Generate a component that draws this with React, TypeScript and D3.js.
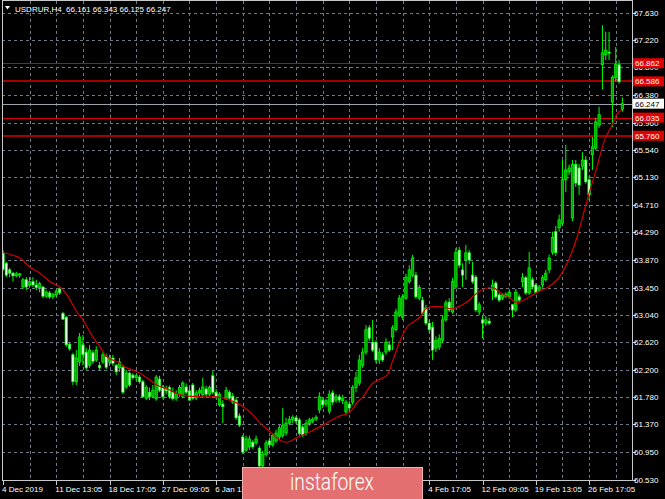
import * as d3 from "d3";

// chart header + axis text
const titleText = "USDRUR,H4  66.161 66.343 66.125 66.247";
const priceTicks = [
  67.63, 67.22, 66.8, 66.38, 65.96, 65.54, 65.13, 64.71, 64.29, 63.87, 63.45,
  63.04, 62.62, 62.2, 61.78, 61.37, 60.95, 60.53,
];
// labels that are not hidden under the watermark, with their bar index
const dateLabels = [
  "4 Dec 2019", "11 Dec 13:05", "18 Dec 17:05", "27 Dec 09:05", "6 Jan 13:05",
  "4 Feb 17:05", "12 Feb 09:05", "19 Feb 13:05", "26 Feb 17:05",
];
const dateLabelBars = [0, 16, 32, 48, 64, 128, 144, 160, 176];

// horizontal levels drawn on the chart
const levelPrices = [66.862, 66.586, 66.035, 65.76];
const levelHeavy = [false, true, false, true];
const lastPrice = 66.247;

// H4 candles: open, high, low, close
const ohlc: [number, number, number, number][] = [
  [63.98, 64.02, 63.70, 63.73], [63.82, 63.84, 63.61, 63.64], [63.72, 63.75, 63.61, 63.67], [63.67, 63.69, 63.54, 63.63],
  [63.63, 63.69, 63.61, 63.66], [63.64, 63.67, 63.60, 63.66], [63.46, 63.60, 63.43, 63.57], [63.57, 63.61, 63.41, 63.46],
  [63.49, 63.61, 63.45, 63.54], [63.54, 63.61, 63.46, 63.49], [63.49, 63.57, 63.41, 63.45], [63.45, 63.54, 63.38, 63.51],
  [63.46, 63.47, 63.29, 63.32], [63.32, 63.41, 63.29, 63.38], [63.37, 63.40, 63.28, 63.31], [63.31, 63.37, 63.28, 63.35],
  [63.34, 63.41, 63.31, 63.40], [63.43, 63.45, 63.34, 63.37], [63.06, 63.08, 62.96, 62.97], [63.00, 63.02, 62.55, 62.58],
  [62.59, 62.62, 62.49, 62.52], [62.43, 62.46, 61.97, 62.02], [62.02, 62.50, 61.97, 62.38], [62.32, 62.76, 62.26, 62.70],
  [62.58, 62.73, 62.27, 62.43], [62.47, 62.53, 62.20, 62.23], [62.27, 62.58, 62.23, 62.50], [62.46, 62.50, 62.29, 62.33],
  [62.35, 62.56, 62.32, 62.50], [62.27, 62.32, 62.20, 62.23], [62.32, 62.47, 62.29, 62.43], [62.40, 62.44, 62.21, 62.24],
  [62.32, 62.43, 62.26, 62.38], [62.38, 62.43, 62.26, 62.30], [62.27, 62.29, 62.12, 62.17], [62.23, 62.38, 62.17, 62.32],
  [62.24, 62.27, 61.83, 61.86], [61.94, 62.20, 61.91, 62.15], [62.15, 62.17, 61.94, 61.97], [62.12, 62.15, 62.05, 62.08],
  [62.08, 62.14, 62.03, 62.11], [62.09, 62.12, 61.99, 62.02], [62.02, 62.05, 61.77, 61.79], [61.77, 61.97, 61.74, 61.93],
  [61.86, 61.93, 61.74, 61.79], [61.80, 61.97, 61.77, 61.89], [61.76, 62.12, 61.73, 62.09], [62.06, 62.11, 61.86, 61.89],
  [61.94, 61.97, 61.76, 61.79], [61.91, 61.96, 61.83, 61.88], [61.93, 61.96, 61.76, 61.79], [61.86, 61.93, 61.73, 61.76],
  [61.77, 61.89, 61.73, 61.83], [61.83, 61.97, 61.79, 61.93], [61.80, 62.03, 61.77, 62.00], [61.94, 61.99, 61.83, 61.86],
  [61.88, 61.93, 61.73, 61.74], [61.97, 62.00, 61.74, 61.77], [61.77, 61.89, 61.74, 61.85], [61.85, 61.93, 61.80, 61.89],
  [61.82, 62.08, 61.77, 61.94], [61.91, 61.96, 61.79, 61.83], [61.83, 61.96, 61.80, 61.93], [62.11, 62.18, 61.83, 61.86],
  [61.86, 61.91, 61.76, 61.79], [61.67, 61.86, 61.64, 61.83], [61.68, 61.74, 61.39, 61.64], [61.77, 61.94, 61.74, 61.89],
  [61.86, 61.89, 61.74, 61.77], [61.80, 61.85, 61.68, 61.71], [61.74, 61.77, 61.44, 61.47], [61.50, 61.54, 61.33, 61.36],
  [61.18, 61.21, 60.92, 60.95], [60.98, 61.20, 60.95, 61.15], [61.03, 61.20, 60.98, 61.15], [61.10, 61.13, 61.00, 61.03],
  [61.09, 61.20, 61.06, 61.15], [61.01, 61.04, 60.68, 60.74], [60.74, 60.97, 60.69, 60.92], [60.91, 61.13, 60.88, 61.09],
  [61.12, 61.17, 61.03, 61.06], [61.06, 61.24, 61.03, 61.20], [61.12, 61.29, 61.09, 61.24], [61.18, 61.36, 61.13, 61.32],
  [61.20, 61.62, 61.17, 61.36], [61.24, 61.47, 61.20, 61.39], [61.39, 61.50, 61.36, 61.45], [61.44, 61.51, 61.39, 61.48],
  [61.47, 61.50, 61.38, 61.42], [61.44, 61.47, 61.20, 61.23], [61.33, 61.36, 61.18, 61.21], [61.24, 61.44, 61.20, 61.39],
  [61.38, 61.47, 61.35, 61.44], [61.42, 61.48, 61.39, 61.45], [61.45, 61.51, 61.42, 61.48], [61.59, 61.86, 61.54, 61.79],
  [61.74, 61.77, 61.62, 61.67], [61.68, 61.76, 61.64, 61.73], [61.57, 61.89, 61.53, 61.83], [61.85, 61.89, 61.67, 61.71],
  [61.74, 61.83, 61.70, 61.79], [61.79, 61.83, 61.70, 61.74], [61.73, 61.82, 61.68, 61.77], [61.56, 61.74, 61.53, 61.71],
  [61.68, 61.73, 61.57, 61.62], [61.71, 61.97, 61.67, 61.93], [61.93, 62.17, 61.86, 62.08], [62.00, 62.43, 61.96, 62.35],
  [62.27, 62.53, 62.23, 62.47], [62.47, 62.88, 62.43, 62.81], [62.84, 62.88, 62.64, 62.68], [62.62, 62.96, 62.47, 62.50],
  [62.62, 62.65, 62.30, 62.35], [62.35, 62.53, 62.29, 62.47], [62.43, 62.47, 62.32, 62.35], [62.47, 62.68, 62.43, 62.62],
  [62.58, 62.64, 62.47, 62.50], [62.70, 62.88, 62.50, 62.84], [62.81, 63.13, 62.78, 63.08], [63.03, 63.34, 63.00, 63.29],
  [63.00, 63.35, 62.96, 63.31], [63.29, 63.66, 63.26, 63.61], [63.54, 63.79, 63.51, 63.72], [63.64, 63.95, 63.61, 63.90],
  [63.64, 63.69, 63.28, 63.31], [63.29, 63.49, 63.26, 63.45], [63.26, 63.31, 63.03, 63.06], [63.14, 63.19, 62.88, 62.91],
  [62.91, 62.96, 62.76, 62.81], [62.85, 62.93, 62.35, 62.50], [62.53, 62.71, 62.47, 62.65], [62.55, 62.74, 62.50, 62.68],
  [62.65, 63.02, 62.61, 62.96], [62.96, 63.26, 62.93, 63.22], [63.23, 63.29, 63.08, 63.11], [63.08, 63.60, 63.05, 63.54],
  [63.46, 64.05, 63.43, 63.99], [64.02, 64.07, 63.75, 63.79], [63.72, 63.82, 63.46, 63.64], [63.87, 64.10, 63.57, 63.98],
  [63.98, 64.02, 63.81, 63.87], [63.64, 63.84, 63.51, 63.54], [63.61, 63.64, 63.08, 63.11], [63.08, 63.23, 63.03, 63.19],
  [62.96, 63.03, 62.68, 62.91], [62.91, 63.02, 62.87, 62.96], [62.94, 62.99, 62.88, 62.91], [63.41, 63.57, 63.26, 63.49],
  [63.52, 63.55, 63.28, 63.31], [63.34, 63.37, 63.23, 63.26], [63.29, 63.37, 63.26, 63.34], [63.32, 63.38, 63.29, 63.35],
  [63.31, 63.41, 63.28, 63.38], [63.19, 63.20, 63.00, 63.11], [63.11, 63.43, 63.08, 63.38], [63.31, 63.35, 63.23, 63.26],
  [63.54, 63.67, 63.46, 63.60], [63.60, 63.63, 63.34, 63.37], [63.37, 63.99, 63.34, 63.75], [63.57, 63.61, 63.43, 63.46],
  [63.49, 63.52, 63.35, 63.38], [63.41, 63.49, 63.38, 63.46], [63.49, 63.64, 63.45, 63.60], [63.57, 63.72, 63.54, 63.67],
  [63.72, 63.95, 63.67, 63.90], [63.99, 64.30, 63.95, 64.21], [64.30, 64.39, 63.93, 63.98], [64.36, 64.56, 64.30, 64.48],
  [64.43, 65.39, 64.39, 65.09], [65.09, 65.62, 64.90, 65.24], [65.21, 65.32, 65.16, 65.27], [64.51, 65.39, 64.46, 65.32],
  [65.32, 65.39, 64.98, 65.04], [65.27, 65.33, 64.86, 65.01], [65.29, 65.51, 65.24, 65.39], [65.39, 65.45, 65.03, 65.06],
  [65.09, 65.15, 64.78, 64.86], [65.47, 65.74, 65.24, 65.59], [65.57, 66.03, 65.54, 65.97], [65.92, 66.20, 65.88, 66.08],
  [66.84, 67.44, 66.46, 67.02], [66.99, 67.34, 66.91, 67.06], [67.03, 67.34, 66.91, 67.02], [66.27, 66.68, 65.89, 66.65],
  [66.64, 67.11, 66.58, 66.84], [66.84, 66.91, 66.55, 66.58], [66.161, 66.343, 66.125, 66.247],
];

// moving average: [bar index, price]
const maPoints: [number, number][] = [
  [0, 63.98], [5.1, 63.9], [8.1, 63.76], [11.1, 63.67], [14.1, 63.54], [17.1, 63.46],
  [19.2, 63.34], [22.2, 63.08], [24, 62.96], [27, 62.7], [29.1, 62.55], [31.2, 62.4],
  [35.1, 62.3], [37.2, 62.23], [40.2, 62.17], [43.2, 62.08], [46.2, 61.97], [50.2, 61.89],
  [53.2, 61.82], [59.2, 61.79], [64.3, 61.79], [68.2, 61.74], [72.1, 61.64], [75.1, 61.51],
  [77.2, 61.39], [80.2, 61.26], [83.2, 61.13], [85.3, 61.1], [88.3, 61.17], [92.2, 61.26],
  [96.1, 61.36], [100.3, 61.48], [104.2, 61.56], [106.3, 61.7], [108.1, 61.79], [111.1, 62.0],
  [115.3, 62.12], [117.1, 62.35], [121.3, 62.85], [125.2, 63.0], [127.3, 63.14], [131.2, 63.16],
  [135.1, 63.13], [139.3, 63.23], [143.2, 63.4], [147.1, 63.45], [149.2, 63.38], [152.3, 63.29],
  [154.4, 63.22], [157.4, 63.29], [160.4, 63.38], [163.4, 63.45], [166.4, 63.57], [169.4, 63.82],
  [172.4, 64.22], [175.4, 64.78], [178.4, 65.29], [180.7, 65.7], [182.9, 65.92], [184.7, 66.11],
  [185.9, 66.15],
];

const frame = { left: 2, right: 632, top: 1, bottom: 481 };
const font = "'Liberation Sans', Arial, sans-serif";
const badge = { x: 242.5, y: 467.5, w: 180, h: 34 };

export default function App() {
  const x = d3.scaleLinear().domain([0, 186]).range([3, 622.4]);
  const y = d3.scaleLinear().domain([60.53, 67.63]).range([479.7, 12.7]);
  const crisp = (v: number) => Math.round(v) + 0.5;
  const fmt = d3.format(".3f");

  const gridBars = d3.range(8, ohlc.length, 8);

  const maLine = d3
    .line<[number, number]>()
    .x((d) => x(d[0]))
    .y((d) => y(d[1]))
    .curve(d3.curveCatmullRom);

  return (
    <svg
      width={665}
      height={499}
      style={{ position: "absolute", left: 0, top: 0, display: "block", background: "#000" }}
    >
      <rect width={665} height={499} fill="#000" />
      <defs>
        <clipPath id="plot">
          <rect
            x={frame.left}
            y={frame.top}
            width={frame.right - frame.left}
            height={frame.bottom - frame.top}
          />
        </clipPath>
        <clipPath id="axisClip">
          <rect x={0} y={frame.bottom} width={badge.x} height={20} />
          <rect x={badge.x + badge.w} y={frame.bottom} width={665} height={20} />
        </clipPath>
      </defs>

      {/* grid */}
      <g stroke="#6f7886" strokeWidth={1} strokeDasharray="3,3">
        {priceTicks.map((p) => (
          <line key={p} x1={frame.left} x2={frame.right} y1={crisp(y(p))} y2={crisp(y(p))} />
        ))}
        {gridBars.map((b) => (
          <line key={b} x1={crisp(x(b))} x2={crisp(x(b))} y1={frame.top} y2={frame.bottom} />
        ))}
      </g>

      {/* levels */}
      <g clipPath="url(#plot)">
        {levelPrices.map((p, i) => (
          <line
            key={p}
            x1={frame.left}
            x2={frame.right}
            y1={levelHeavy[i] ? Math.round(y(p)) : crisp(y(p))}
            y2={levelHeavy[i] ? Math.round(y(p)) : crisp(y(p))}
            stroke={levelHeavy[i] ? "#a00000" : "#d40000"}
            strokeWidth={levelHeavy[i] ? 2 : 1}
          />
        ))}
        <line
          x1={frame.left}
          x2={frame.right}
          y1={crisp(y(lastPrice))}
          y2={crisp(y(lastPrice))}
          stroke="#9aa4b0"
          strokeWidth={1}
        />
      </g>

      {/* candles */}
      <g clipPath="url(#plot)">
        {ohlc.map(([o, h, l, c], i) => {
          const cx = x(i);
          const bull = c >= o;
          const top = y(Math.max(o, c));
          const bh = Math.max(1, y(Math.min(o, c)) - top);
          return (
            <g key={i}>
              <line x1={cx} x2={cx} y1={y(h)} y2={y(l)} stroke="#00ff00" strokeWidth={1} />
              <rect
                x={cx - 1.2}
                y={top}
                width={2.4}
                height={bh}
                fill={bull ? "#00a800" : "#e6ffe6"}
                stroke="#00ff00"
                strokeWidth={0.7}
              />
            </g>
          );
        })}
        <path d={maLine(maPoints) ?? ""} fill="none" stroke="#d00000" strokeWidth={1.2} />
      </g>

      {/* frame */}
      <rect
        x={frame.left + 0.5}
        y={frame.top - 0.5}
        width={frame.right - frame.left}
        height={frame.bottom - frame.top}
        fill="none"
        stroke="#c8c8c8"
        strokeWidth={1}
      />

      {/* price axis */}
      <g fontFamily={font} fontSize={8} fill="#ffffff">
        {priceTicks.map((p) => (
          <g key={p}>
            <line x1={frame.right} x2={frame.right + 4} y1={crisp(y(p))} y2={crisp(y(p))} stroke="#c8c8c8" />
            <text x={634} y={y(p) + 3}>
              {fmt(p)}
            </text>
          </g>
        ))}
      </g>

      {/* level labels */}
      <g fontFamily={font} fontSize={8}>
        {levelPrices.map((p) => (
          <g key={p}>
            <rect x={633} y={y(p) - 5} width={31} height={10} fill="#e00000" />
            <text x={635} y={y(p) + 3} fill="#ffffff">
              {fmt(p)}
            </text>
          </g>
        ))}
        <rect x={633} y={y(lastPrice) - 5} width={31} height={10} fill="#ffffff" />
        <text x={635} y={y(lastPrice) + 3} fill="#000000">
          {fmt(lastPrice)}
        </text>
      </g>

      {/* time axis */}
      <g fontFamily={font} fontSize={8} fill="#ffffff" clipPath="url(#axisClip)">
        {dateLabelBars.map((b, i) => (
          <g key={b}>
            <line x1={crisp(x(b))} x2={crisp(x(b))} y1={frame.bottom} y2={frame.bottom + 4} stroke="#c8c8c8" />
            <text x={x(b) - 1} y={492}>
              {dateLabels[i]}
            </text>
          </g>
        ))}
      </g>

      {/* header */}
      <path d="M5,6 L10,6 L7.5,9.5 Z" fill="#ffffff" />
      <text x={15} y={11.5} fontFamily={font} fontSize={8} fill="#ffffff" style={{ whiteSpace: "pre" }}>
        {titleText}
      </text>

      {/* watermark */}
      <rect x={badge.x} y={badge.y} width={badge.w} height={badge.h} fill="#e36f71" stroke="#f2b0b0" strokeWidth={1} />
      <text
        x={332}
        y={490}
        textAnchor="middle"
        fontFamily="Roboto, 'Open Sans', sans-serif"
        fontWeight={300}
        fontSize={24}
        fill="#ffffff"
        textLength={84}
        lengthAdjust="spacingAndGlyphs"
      >
        instaforex
      </text>
    </svg>
  );
}
